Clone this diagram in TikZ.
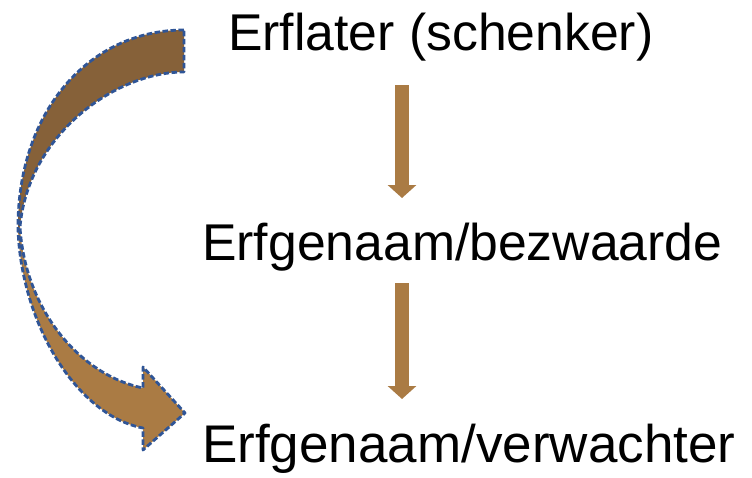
\documentclass[tikz,border=0pt]{standalone}
\usepackage{fontspec}
\setmainfont{Liberation Sans}
\usetikzlibrary{arrows.meta, positioning}
\usepackage{xcolor}
\definecolor{arrowBrown}{RGB}{170, 123, 68}
\definecolor{arrowDark}{RGB}{134, 97, 57}
\definecolor{edgeBlue}{RGB}{47, 85, 151}
\tikzset{
    label text/.style={anchor=base west, inner sep=0pt, font=\fontsize{51.7}{60}\selectfont},
    stem/.style={draw=arrowBrown, line width=14pt, -{Triangle[width=28pt, length=13pt, fill=arrowBrown]}},
    band edge/.style={draw=edgeBlue, line width=2.8pt, dash pattern=on 5.5pt off 2.5pt, line join=round}
}

\begin{document}
\begin{tikzpicture}[x=1pt, y=-1pt]
                    \useasboundingbox (0,0) rectangle (752,477);

                    % The three names
                    \node[label text] (schenker) at (228,50) {Erflater (schenker)};
                    \node[label text] (bezwaarde) at (202,260) {Erfgenaam/bezwaarde};
                    \node[label text, font=\fontsize{53}{60}\selectfont] (verwachter) at (202,462) {Erfgenaam/verwachter};

                    % Straight arrows between the names
                    \draw[stem] ([shift={(174,35)}]schenker.base west) -- ([shift={(200,-62)}]bezwaarde.base west);
                    \draw[stem] ([shift={(200,23)}]bezwaarde.base west) -- ([shift={(200,-63)}]verwachter.base west);

                    % Define the two halves of the curved arrow
                    \def\upperband{(184,30) .. controls (90,30) and (18,110) .. (18,227)
                        -- (20,227) .. controls (28,135) and (115,72) .. (184,72) -- cycle}
                    \def\lowerband{(18,227) .. controls (20,320) and (75,415) .. (143,428)
                        -- (143,450) -- (185,413) -- (143,367) -- (143,388)
                        .. controls (80,375) and (25,310) .. (20,227) -- cycle}

                    % Fill the halves, the back one darker
                    \fill[arrowDark] \upperband;
                    \fill[arrowBrown] \lowerband;

                    % Dashed outline round the whole curved arrow
                    \draw[band edge] (184,30) .. controls (90,30) and (18,110) .. (18,227)
                        .. controls (20,320) and (75,415) .. (143,428)
                        -- (143,450) -- (185,413) -- (143,367) -- (143,388)
                        .. controls (80,375) and (25,310) .. (20,227)
                        .. controls (28,135) and (115,72) .. (184,72) -- cycle;
                \end{tikzpicture}
\end{document}
